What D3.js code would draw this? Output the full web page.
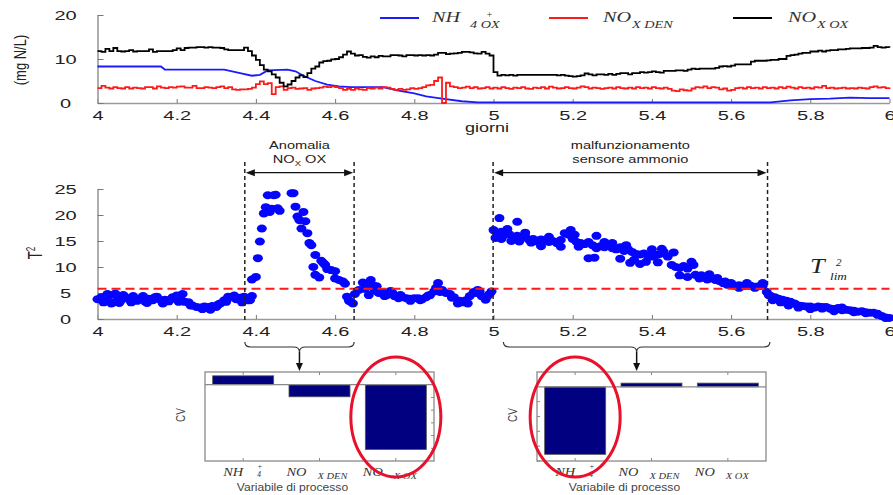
<!DOCTYPE html>
<html>
<head>
<meta charset="utf-8">
<script src="https://cdn.jsdelivr.net/npm/d3@7"></script>
<style>
body { margin: 0; background: #fff; }
svg { display: block; }
text { font-family: "Liberation Sans", Arial, sans-serif; }
</style>
</head>
<body>
<svg width="893" height="495"></svg>
<script>
// ---- data ----
const xTicks = [4, 4.2, 4.4, 4.6, 4.8, 5, 5.2, 5.4, 5.6, 5.8, 6];
const concTicks = [0, 10, 20];
const t2Ticks = [0, 5, 10, 15, 20, 25];

// sampled series: one value every 0.01 giorni starting at day 4
const tStart = 4, tStep = 0.01;

// NH4+ OX (smooth, given as breakpoints [giorni, mg N/L])
const nh4Ox = [[4.00, 8.3], [4.16, 8.3], [4.17, 7.6], [4.32, 7.6], [4.36, 6.8], [4.39, 6.2], [4.41, 6.4],
  [4.43, 7.4], [4.48, 7.6], [4.50, 7.2], [4.52, 6.2], [4.55, 5.0], [4.58, 4.2], [4.61, 3.8], [4.64, 3.6],
  [4.72, 3.6], [4.76, 2.8], [4.80, 2.2], [4.83, 1.5], [4.87, 1.0], [4.92, 0.4], [4.96, 0.15], [5.70, 0.15],
  [5.75, 0.6], [5.80, 0.9], [5.85, 1.0], [5.90, 1.2], [5.95, 1.1], [6.00, 1.1]];

const noxDen = [
  3.4, 3.9, 3.5, 3.3, 3.6, 3.4, 3.3, 3.6, 3.3, 3.5,
  3.4, 3.3, 3.6, 3.6, 3.3, 3.8, 3.5, 3.4, 3.6, 3.5,
  3.7, 3.8, 3.5, 3.5, 3.9, 3.4, 3.4, 3.6, 3.5, 3.4,
  3.6, 3.8, 3.4, 3.6, 3.1, 3.0, 3.1, 3.1, 3.2, 3.5,
  4.3, 4.9, 4.3, 4.5, 2.0, 3.6, 3.8, 3.0, 3.4, 3.5,
  3.2, 3.3, 3.4, 3.0, 3.3, 3.4, 3.5, 3.7, 3.6, 3.8,
  3.6, 3.4, 3.0, 3.2, 3.0, 3.3, 3.1, 3.0, 3.4, 3.3,
  3.5, 3.3, 3.6, 3.5, 3.2, 3.0, 3.2, 3.0, 3.1, 3.4,
  3.2, 3.4, 3.6, 4.0, 4.1, 5.0, 5.8, 0.0, 4.6, 3.8,
  3.6, 3.4, 3.5, 3.7, 3.4, 3.6, 3.3, 3.4, 3.6, 3.3,
  3.5, 3.3, 3.6, 3.4, 3.2, 3.5, 3.4, 3.6, 3.3, 3.2,
  3.5, 3.4, 3.6, 3.3, 3.7, 3.5, 3.3, 3.4, 3.6, 3.4,
  3.3, 3.5, 3.8, 3.6, 3.3, 3.5, 3.4, 3.2, 3.4, 3.5,
  3.3, 3.6, 3.4, 3.3, 3.5, 3.3, 3.6, 3.4, 3.5, 3.3,
  3.6, 3.4, 3.3, 3.5, 3.2, 2.8, 2.7, 3.1, 2.9, 2.8,
  3.3, 3.6, 3.5, 3.8, 3.4, 3.6, 3.5, 3.1, 3.3, 2.8,
  3.0, 3.4, 3.5, 3.3, 3.6, 3.4, 3.5, 3.3, 3.6, 3.4,
  3.5, 3.3, 3.6, 3.4, 3.7, 3.5, 3.3, 3.6, 3.4, 3.5,
  3.3, 3.6, 3.5, 3.9, 3.4, 3.5, 3.3, 3.4, 3.5, 3.3,
  3.4, 3.3, 3.5, 3.4, 3.3, 3.6, 3.8, 3.5, 3.6, 3.4,
  3.5];

const noxOx = [
  11.8, 11.6, 12.3, 11.8, 12.5, 11.8, 11.7, 11.8, 12.0, 11.7,
  11.8, 11.8, 11.8, 12.2, 11.6, 11.8, 11.8, 11.8, 11.8, 12.0,
  12.4, 12.0, 12.5, 12.6, 12.6, 12.7, 12.7, 12.6, 12.7, 12.6,
  12.6, 12.5, 12.2, 12.0, 12.0, 12.0, 12.0, 12.6, 11.8, 10.8,
  9.8, 8.6, 7.6, 7.2, 6.5, 5.8, 4.6, 3.8, 4.2, 5.0,
  5.8, 6.3, 5.9, 6.8, 7.8, 8.3, 9.2, 9.5, 9.6, 9.9,
  10.0, 10.4, 11.0, 11.7, 11.2, 10.8, 10.9, 10.5, 10.3, 10.6,
  10.4, 10.7, 10.6, 10.6, 10.9, 10.9, 10.8, 10.6, 10.9, 10.9,
  10.8, 10.9, 10.8, 10.9, 10.8, 11.0, 11.4, 11.4, 11.1, 11.2,
  11.3, 11.4, 11.6, 11.6, 11.5, 11.3, 11.2, 11.6, 11.2, 10.8,
  7.0, 6.2, 6.4, 6.3, 6.4, 6.2, 6.4, 6.4, 6.4, 6.4,
  6.4, 6.4, 6.4, 6.4, 6.4, 6.4, 6.3, 6.4, 6.2, 6.1,
  6.0, 6.1, 6.3, 6.7, 6.5, 6.3, 6.5, 6.5, 6.4, 6.6,
  6.4, 6.6, 6.8, 6.8, 6.5, 6.8, 6.8, 7.0, 6.9, 7.0,
  7.2, 7.0, 6.9, 7.3, 7.3, 7.3, 7.4, 7.4, 7.3, 7.6,
  7.8, 7.7, 7.8, 7.8, 7.8, 7.8, 8.0, 8.3, 8.4, 8.3,
  8.5, 8.8, 8.8, 8.8, 8.8, 9.4, 9.6, 9.6, 9.6, 9.7,
  9.8, 9.8, 10.0, 10.0, 10.7, 10.9, 11.0, 11.2, 11.4, 11.4,
  11.7, 11.7, 11.9, 11.7, 11.9, 12.0, 12.0, 12.2, 12.2, 12.3,
  12.4, 12.4, 12.4, 12.5, 12.5, 12.6, 13.0, 12.7, 12.6, 12.7,
  12.6];

// T^2 statistic (null = no sample visible)
const t2 = [
  3.8, 4.2, 3.5, 4.6, 3.2, 4.4, 3.6, 4.2, 3.9, 4.4,
  3.5, 4.0, 3.4, 3.9, 3.6, 4.3, 3.6, 3.7, 3.4, 4.2,
  4.5, 3.8, 3.3, 3.2, 2.6, 2.3, 2.2, 2.4, 2.3, 2.5,
  2.3, 3.0, 3.6, 4.3, 4.2, 3.8, 4.1, 4.3, 3.6, 4.4,
  8.1, 14.9, 20.3, 23.8, 21.2, 23.9, 20.8, null, null, 24.2,
  21.6, 19.0, 20.6, 16.5, 14.2, 12.3, 8.0, 10.8, 9.6, 9.4,
  7.8, 7.5, 7.2, 4.3, 3.3, 4.8, 5.6, 7.0, 6.2, 7.5,
  5.5, 5.0, 5.2, 4.6, 5.4, 4.4, 4.0, 4.2, 4.0, 3.9,
  4.0, 4.0, 3.8, 4.2, 4.6, 5.3, 6.9, 5.6, 5.0, 4.8,
  4.2, 3.0, 3.2, 3.6, 4.4, 5.2, 5.6, 4.4, 3.7, 4.8,
  17.1, 16.5, 16.8, 16.2, 16.3, 15.8, 16.0, 15.6, 15.9, 15.2,
  15.4, 14.9, 15.3, 15.1, 14.8, 15.0, 14.6, 15.2, 16.5, 16.2,
  15.4, 14.8, 14.6, 14.4, 14.8, 14.2, 13.6, 14.0, 13.8, 14.1,
  13.6, 13.4, 13.8, 13.1, 13.4, 12.9, 12.5, 12.4, 12.6, 12.2,
  12.0, 12.3, 12.5, 12.9, 12.0, 10.4, 10.0, 9.8, 10.2, 9.7,
  11.0, 8.5, 7.8, 8.0, 7.6, 7.9, 7.5, 7.3, 6.9, 6.6,
  6.5, 6.4, 6.5, 6.3, 6.4, 6.4, 6.2, 6.3, 6.4, 5.2,
  4.4, 4.2, 3.9, 3.7, 3.5, 3.3, 3.0, 2.6, 2.5, 2.4,
  2.4, 2.2, 2.4, 2.3, 2.3, 2.0, 1.9, 2.1, 2.2, 1.8,
  1.7, 1.6, 1.4, 1.5, 1.3, 1.2, 1.2, 1.0, 0.6, 0.3,
  0.2];

// extra T^2 samples that thicken the band [giorni, T2]
const t2Extra = [
  [4.015, 3.2], [4.025, 4.8], [4.035, 3.0], [4.045, 4.9], [4.055, 3.1], [4.065, 4.6], [4.085, 3.2],
  [4.115, 4.4], [4.125, 3.1], [4.145, 4.2], [4.165, 3.0], [4.185, 3.8], [4.205, 3.3], [4.215, 4.8],
  [4.235, 2.6], [4.265, 1.9], [4.285, 1.8], [4.305, 2.8], [4.325, 3.3], [4.345, 4.5], [4.365, 3.2],
  [4.385, 3.6], [4.39, 7.6], [4.405, 11.7], [4.415, 17.4], [4.425, 21.5], [4.435, 20.6], [4.445, 23.8],
  [4.455, 21.3], [4.495, 24.2], [4.505, 19.7], [4.515, 17.4], [4.525, 18.8], [4.535, 14.6], [4.545, 10.0],
  [4.55, 8.5], [4.565, 11.2], [4.575, 10.4], [4.60, 9.2], [4.625, 6.8], [4.635, 3.5], [4.645, 3.0],
  [4.675, 5.8], [4.685, 4.6], [4.695, 6.5], [4.705, 6.3], [4.725, 4.4], [4.745, 5.0], [4.765, 4.6],
  [4.79, 3.5], [4.815, 3.6], [4.835, 4.5], [4.855, 6.0], [4.865, 5.2], [4.895, 4.1], [4.915, 3.5],
  [4.935, 3.0], [4.955, 5.0], [4.965, 5.3], [4.985, 4.4], [4.995, 5.3],
  [5.005, 15.6], [5.015, 19.4], [5.02, 15.4], [5.035, 17.3], [5.045, 15.0], [5.06, 18.7], [5.065, 14.9],
  [5.08, 16.6], [5.095, 14.7], [5.12, 14.0], [5.14, 15.8], [5.17, 13.9], [5.195, 17.1], [5.205, 16.2],
  [5.215, 13.9], [5.24, 11.7], [5.255, 11.8], [5.26, 16.0], [5.28, 14.8], [5.30, 14.6], [5.32, 11.6],
  [5.335, 14.2], [5.345, 10.8], [5.355, 11.4], [5.37, 10.6], [5.385, 11.0], [5.40, 13.4], [5.415, 10.9],
  [5.425, 13.5], [5.455, 12.8], [5.47, 8.4], [5.49, 8.1], [5.505, 10.4], [5.525, 8.4], [5.545, 8.6],
  [5.565, 7.9], [5.585, 7.2], [5.60, 6.9], [5.62, 6.0], [5.64, 6.9], [5.66, 6.0], [5.68, 6.9],
  [5.695, 4.6], [5.705, 3.6], [5.725, 3.2], [5.745, 2.6], [5.77, 2.2], [5.80, 1.9], [5.83, 2.0],
  [5.86, 1.5], [5.88, 1.7], [5.91, 1.3], [5.94, 1.1], [5.97, 0.8], [5.99, 0.2]];

const t2Lim = 5.8;
const anomalie = [[4.372, 4.648], [4.999, 5.692]];
const braces = [[4.372, 4.648], [5.025, 5.698]];

// contributi (CV) per variabile di processo
const cvLabels = [{ main: "NH", sup: "+", sub: "4" }, { main: "NO", sub: "X DEN" }, { main: "NO", sub: "X OX" }];
const cvAnomalia = [0.07, -0.095, -0.51];
const cvSensore = [-0.455, 0.025, 0.025];
const cvTicks = [-0.5, -0.4, -0.3, -0.2, -0.1];

// ---- drawing ----
const svg = d3.select("svg");
const SERIF = "'Liberation Serif','Times New Roman',serif";

const x = d3.scaleLinear().domain([4, 6]).range([97.5, 889.5]);
const yConc = d3.scaleLinear().domain([0, 20]).range([103, 15]);
const yT2 = d3.scaleLinear().domain([0, 25]).range([319, 189]);

const series = arr => arr.map((v, i) => [tStart + i * tStep, v]);

// the source figure is stretched sideways, so text gets a horizontal scale
function stext(g, px, py, str, o) {
  o = o || {};
  const t = g.append("text")
    .attr("transform", `translate(${px},${py}) scale(${o.sx || 1},1)` + (o.rot ? " rotate(-90)" : ""))
    .attr("text-anchor", o.anchor || "middle")
    .attr("fill", o.fill || "#222")
    .style("font-size", (o.size || 12) + "px");
  if (o.serif) t.style("font-family", SERIF).style("font-style", "italic");
  if (str != null) t.text(str);
  return t;
}

function styleAxis(g) {
  g.select(".domain").attr("stroke", "#9a9a9a").attr("stroke-width", 1.6);
  g.selectAll(".tick line").attr("stroke", "#777");
  g.selectAll(".tick text").attr("fill", "#222").style("font-size", "12.5px");
}
const xAxis = () => d3.axisBottom(x).tickValues(xTicks).tickFormat(d3.format("")).tickSize(-4).tickSizeOuter(0);
const fixX = g => g.selectAll(".tick text").attr("y", 17).attr("dy", null).attr("transform", "scale(1.6,1)");
const fixY = g => g.selectAll(".tick text").attr("x", -20).attr("text-anchor", "middle").attr("transform", "scale(1.6,1)");

// top panel: concentrations
svg.append("g").attr("transform", "translate(0,103)").call(xAxis()).call(styleAxis).call(fixX);
svg.append("g").attr("transform", "translate(97.5,0)")
  .call(d3.axisLeft(yConc).tickValues(concTicks).tickSize(-6).tickSizeOuter(0))
  .call(styleAxis).call(fixY);

const smooth = d3.line().x(d => x(d[0])).y(d => yConc(d[1]));
const steps = d3.line().x(d => x(d[0])).y(d => yConc(d[1])).curve(d3.curveStepAfter);
svg.append("path").datum(nh4Ox).attr("d", smooth)
  .attr("fill", "none").attr("stroke", "#1a1aff").attr("stroke-width", 1.8);
svg.append("path").datum(series(noxDen)).attr("d", steps)
  .attr("fill", "none").attr("stroke", "#ff1a1a").attr("stroke-width", 1.8);
svg.append("path").datum(series(noxOx)).attr("d", steps)
  .attr("fill", "none").attr("stroke", "#000").attr("stroke-width", 1.8);

stext(svg, 487, 132, "giorni", { sx: 1.5, size: 12 });
stext(svg, 26, 60, "(mg N/L)", { rot: true, sx: 1.3, size: 13 });

// legend
const legendItems = [
  { color: "#1a1aff", x: 380, main: "NH", mx: 432, sub: "4 OX", bx: 470, sup: "+", px: 486 },
  { color: "#ff1a1a", x: 549, main: "NO", mx: 603, sub: "X DEN", bx: 632 },
  { color: "#000", x: 733, main: "NO", mx: 788, sub: "X OX", bx: 817 }
];
legendItems.forEach(d => {
  svg.append("line").attr("x1", d.x).attr("x2", d.x + 39).attr("y1", 18).attr("y2", 18)
    .attr("stroke", d.color).attr("stroke-width", 2.2);
  stext(svg, d.mx, 22, d.main, { serif: true, size: 15, sx: 1.35, anchor: "start", fill: "#333" });
  stext(svg, d.bx, 28, d.sub, { serif: true, size: 9.5, sx: 1.5, anchor: "start", fill: "#333" });
  if (d.sup) stext(svg, d.px, 18, d.sup, { serif: true, size: 10, anchor: "start", fill: "#333" });
});

// middle panel: T^2
svg.append("g").attr("transform", "translate(0,319)").call(xAxis()).call(styleAxis).call(fixX);
svg.append("g").attr("transform", "translate(97.5,0)")
  .call(d3.axisLeft(yT2).tickValues(t2Ticks).tickSize(-6).tickSizeOuter(0))
  .call(styleAxis).call(fixY);

const t2Pts = t2Extra.concat(series(t2).filter(d => d[1] != null));
svg.append("g").selectAll("ellipse").data(t2Pts).enter().append("ellipse")
  .attr("cx", d => x(d[0])).attr("cy", d => yT2(d[1]))
  .attr("rx", 5).attr("ry", 4).attr("fill", "#0505ff");

svg.append("line").attr("x1", x(4)).attr("x2", x(6)).attr("y1", yT2(t2Lim)).attr("y2", yT2(t2Lim))
  .attr("stroke", "#ff1a1a").attr("stroke-width", 2).attr("stroke-dasharray", "9,5");

const yl = stext(svg, 42, 253, null, { rot: true, sx: 1.5, size: 13 });
yl.append("tspan").text("T");
yl.append("tspan").attr("dy", -5).style("font-size", "8px").text("2");

stext(svg, 810, 273, "T", { serif: true, size: 21, sx: 1.25, anchor: "start" });
stext(svg, 836, 266, "2", { serif: true, size: 11, anchor: "start" });
stext(svg, 830, 280, "lim", { serif: true, size: 11, sx: 1.2, anchor: "start" });

// anomaly windows
function arrowHead(g, tipX, tipY, dir) { // dir: 1 right, -1 left, 0 down
  const p = dir === 0
    ? [[tipX, tipY], [tipX - 3.5, tipY - 8], [tipX + 3.5, tipY - 8]]
    : [[tipX, tipY], [tipX - dir * 9, tipY - 3.5], [tipX - dir * 9, tipY + 3.5]];
  g.append("path").attr("d", "M" + p.join("L") + "Z").attr("fill", "#111");
}
const annotTexts = [["Anomalia", null], ["malfunzionamento", "sensore ammonio"]];
anomalie.forEach((w, i) => {
  const a = x(w[0]), b = x(w[1]);
  [a, b].forEach(v => svg.append("line").attr("x1", v).attr("x2", v).attr("y1", 162).attr("y2", 323)
    .attr("stroke", "#222").attr("stroke-width", 1.5).attr("stroke-dasharray", "4,3"));
  svg.append("line").attr("x1", a + 6).attr("x2", b - 6).attr("y1", 172.7).attr("y2", 172.7)
    .attr("stroke", "#111").attr("stroke-width", 1.2);
  arrowHead(svg, a + 1, 172.7, -1);
  arrowHead(svg, b - 1, 172.7, 1);
  const c = (a + b) / 2;
  stext(svg, c, 149, annotTexts[i][0], { sx: 1.27, size: 11.5 });
  if (annotTexts[i][1]) {
    stext(svg, c, 163, annotTexts[i][1], { sx: 1.27, size: 11.5 });
  } else {
    const t = stext(svg, c, 163, null, { sx: 1.27, size: 11.5 });
    t.append("tspan").text("NO");
    t.append("tspan").attr("dy", 2.5).style("font-size", "7.5px").text("X");
    t.append("tspan").attr("dy", -2.5).text(" OX");
  }
});

// bottom: contribution charts
function cvChart(x0, x1, values, dom, tickSide, brace, hiIdx) {
  const g = svg.append("g");
  const xb = d3.scaleLinear().domain([0.5, 3.5]).range([x0, x1]);
  const yb = d3.scaleLinear().domain(dom).range([461, 372]);
  const z = yb(0);

  g.selectAll("rect.bar").data(values).enter().append("rect").attr("class", "bar")
    .attr("x", (d, i) => xb(i + 1) - 30.5).attr("width", 61)
    .attr("y", d => Math.min(yb(d), z)).attr("height", d => Math.abs(yb(d) - z))
    .attr("fill", "#000080").attr("stroke", "#555").attr("stroke-width", 0.8);

  g.append("rect").attr("x", x0).attr("y", 372).attr("width", x1 - x0).attr("height", 89)
    .attr("fill", "none").attr("stroke", "#8a8a8a").attr("stroke-width", 1.3);
  g.append("line").attr("x1", x0).attr("x2", x1).attr("y1", z).attr("y2", z)
    .attr("stroke", "#8a8a8a").attr("stroke-width", 1.3);

  values.forEach((d, i) => {
    const c = xb(i + 1);
    g.append("line").attr("x1", c).attr("x2", c).attr("y1", 372).attr("y2", 375).attr("stroke", "#8a8a8a");
    g.append("line").attr("x1", c).attr("x2", c).attr("y1", 461).attr("y2", 458).attr("stroke", "#8a8a8a");
  });
  const sx = tickSide > 0 ? x1 : x0;
  cvTicks.filter(v => v >= dom[0]).forEach(v => {
    g.append("line").attr("x1", sx).attr("x2", sx - tickSide * 3).attr("y1", yb(v)).attr("y2", yb(v))
      .attr("stroke", "#8a8a8a");
  });

  cvLabels.forEach((l, i) => {
    const c = xb(i + 1);
    if (l.sup) {
      stext(g, c - 20, 476, l.main, { serif: true, size: 12.5, sx: 1.15, anchor: "start", fill: "#333" });
      stext(g, c + 14, 469, l.sup, { serif: true, size: 7.5, anchor: "start", fill: "#333" });
      stext(g, c + 14, 477, l.sub, { serif: true, size: 7.5, anchor: "start", fill: "#333" });
    } else {
      stext(g, c - 33, 476, l.main, { serif: true, size: 12.5, sx: 1.15, anchor: "start", fill: "#333" });
      stext(g, c - 2, 479, l.sub, { serif: true, size: 7.5, sx: 1.4, anchor: "start", fill: "#333" });
    }
  });
  stext(g, (x0 + x1) / 2 - 27, 491, "Variabile di processo", { sx: 1.1, size: 11, fill: "#444" });
  stext(g, x0 - 20, 415, "CV", { rot: true, sx: 1.2, size: 10, fill: "#444" });

  // curly brace from the T^2 window down to the chart
  const a = x(brace[0]), b = x(brace[1]), m = (a + b) / 2, y0 = 342, h = 10, q = 6;
  g.append("path")
    .attr("d", `M${a},${y0} Q${a},${y0 + h / 2} ${a + q},${y0 + h / 2} L${m - q},${y0 + h / 2} ` +
      `Q${m},${y0 + h / 2} ${m},${y0 + h} Q${m},${y0 + h / 2} ${m + q},${y0 + h / 2} ` +
      `L${b - q},${y0 + h / 2} Q${b},${y0 + h / 2} ${b},${y0}`)
    .attr("fill", "none").attr("stroke", "#333").attr("stroke-width", 1.2);
  g.append("line").attr("x1", m).attr("x2", m).attr("y1", y0 + h).attr("y2", 364)
    .attr("stroke", "#111").attr("stroke-width", 1.5);
  arrowHead(g, m, 371, 0);

  g.append("ellipse").attr("cx", xb(hiIdx + 1)).attr("cy", 417).attr("rx", 45).attr("ry", 60)
    .attr("fill", "none").attr("stroke", "#e8102a").attr("stroke-width", 3);
}

cvChart(205, 434, cvAnomalia, [-0.6, 0.1], 1, braces[0], 2);
cvChart(537, 766, cvSensore, [-0.5, 0.1], -1, braces[1], 0);
</script>
</body>
</html>
